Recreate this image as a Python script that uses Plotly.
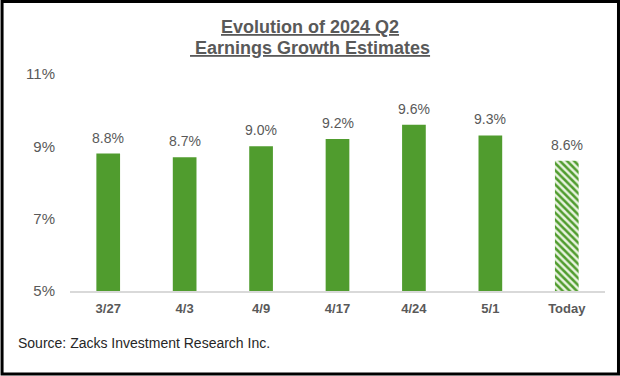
import plotly.graph_objects as go

categories = ["3/27", "4/3", "4/9", "4/17", "4/24", "5/1", "Today"]
values = [8.8, 8.7, 9.0, 9.2, 9.6, 9.3, 8.6]
tick_vals = [5, 7, 9, 11]
tick_text = ["5%", "7%", "9%", "11%"]

W, H = 620, 376
ml, mr, mt, mb = 69.5, 15, 74, 85
pw, ph = W - ml - mr, H - mt - mb

green = "#509C2E"
gray = "#595959"
font = "Liberation Sans, Arial, sans-serif"

fig = go.Figure()
fig.add_trace(go.Bar(
    x=categories[:-1], y=values[:-1], base=0,
    marker=dict(color=green, line=dict(width=0)),
    width=0.31, hoverinfo="skip",
))
fig.add_trace(go.Bar(
    x=categories[-1:], y=values[-1:], base=0,
    marker=dict(color="white", line=dict(width=0),
                pattern=dict(shape="\\", fgcolor=green, bgcolor="#e8f3df",
                             size=5, solidity=0.5, fillmode="replace")),
    width=0.31, hoverinfo="skip",
))

for c, v in zip(categories, values):
    fig.add_annotation(x=c, y=v, text=f"{v:.1f}%", showarrow=False,
                       yanchor="bottom", yshift=6,
                       font=dict(family=font, size=14, color=gray))

cx = (W / 2 - ml) / pw
fig.add_annotation(xref="paper", yref="paper", x=cx, y=1 + (mt - 27) / ph,
                   xanchor="center", yanchor="middle",
                   text="<b><u>Evolution of 2024 Q2</u></b>",
                   showarrow=False, font=dict(family=font, size=18, color=gray))
fig.add_annotation(xref="paper", yref="paper", x=cx, y=1 + (mt - 48) / ph,
                   xanchor="center", yanchor="middle",
                   text="<b><u> Earnings Growth Estimates</u></b>",
                   showarrow=False, font=dict(family=font, size=18, color=gray))

fig.add_annotation(xref="paper", yref="paper", x=(15 - ml) / pw, y=-(343 - (H - mb)) / ph,
                   xanchor="left", yanchor="middle", showarrow=False,
                   text="Source: Zacks Investment Research Inc.",
                   font=dict(family=font, size=14, color="#262626"))

# outer border
fig.add_shape(type="rect", xref="paper", yref="paper",
              x0=(1.5 - ml) / pw, x1=(W - 1.5 - ml) / pw,
              y0=-(mb - 2) / ph, y1=1 + (mt - 1.5) / ph,
              line=dict(color="black", width=3), layer="above")

fig.update_layout(
    width=W, height=H,
    margin=dict(l=ml, r=mr, t=mt, b=mb),
    paper_bgcolor="white", plot_bgcolor="white",
    showlegend=False, barmode="overlay",
    xaxis=dict(showgrid=False, showline=True, linecolor="#d9d9d9", linewidth=1.5,
               ticks="", tickfont=dict(family=font, size=13, color=gray),
               tickprefix="<b>", ticksuffix="</b>", ticklabelstandoff=5),
    yaxis=dict(range=[5, 11], tickvals=tick_vals, ticktext=tick_text,
               showgrid=False, zeroline=False, showline=False, ticks="",
               tickfont=dict(family=font, size=15, color=gray), ticklabelstandoff=14),
)

fig.write_html("out.html", config={"displayModeBar": False},
               post_script="document.body.style.margin='0';document.body.style.overflow='hidden';")
